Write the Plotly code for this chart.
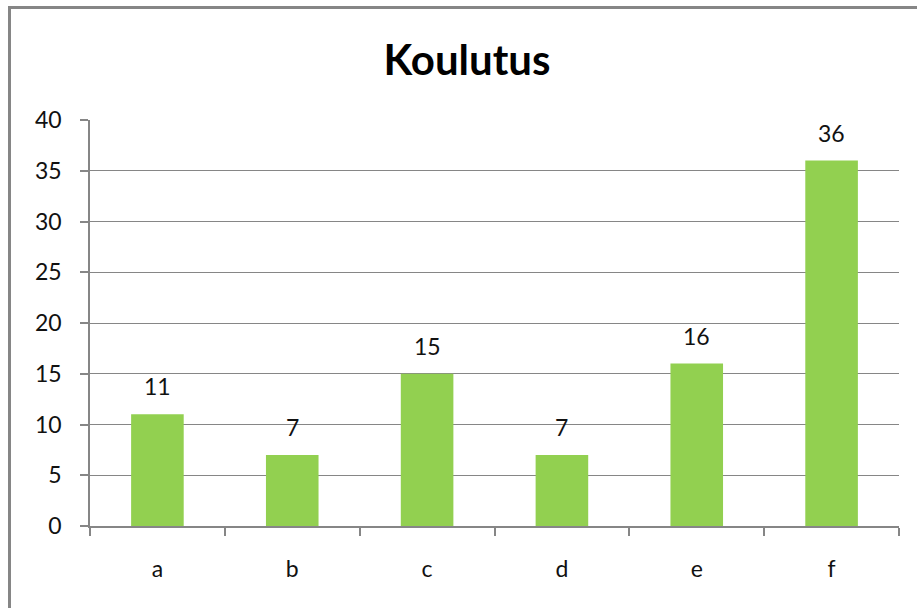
import plotly.graph_objects as go

categories = ["a", "b", "c", "d", "e", "f"]
values = [11, 7, 15, 7, 16, 36]
title_text = "Koulutus"

W, H = 917, 608
L, R, T, B = 90, 18, 120, 82
pw, ph = W - L - R, H - T - B
FONT = "Lato, Liberation Sans, sans-serif"

fig = go.Figure(go.Bar(x=categories, y=values, marker=dict(color="#92D050", line=dict(width=0)),
                       width=0.39))

for c, v in zip(categories, values):
    fig.add_annotation(x=c, y=v, text=str(v), showarrow=False, yanchor="bottom", yshift=12,
                       font=dict(family=FONT, size=23, color="#111"))

# chart frame
fig.add_shape(type="rect", xref="paper", yref="paper",
              x0=(9.5 - L) / pw, x1=(W + 5 - L) / pw,
              y0=(T + ph - (H + 5)) / ph, y1=(T + ph - 7.5) / ph,
              line=dict(color="#868686", width=3), layer="below")

fig.update_layout(
    width=W, height=H,
    margin=dict(l=L, r=R, t=T, b=B),
    paper_bgcolor="white", plot_bgcolor="white",
    showlegend=False,
    font=dict(family=FONT, size=23, color="#111"),
    title=dict(text="<b>" + title_text + "</b>", x=467 / W, xanchor="center", xref="container",
               y=1 - 60 / H, yanchor="middle", yref="container",
               font=dict(family=FONT, size=42, color="#000")),
    xaxis=dict(showgrid=False, showline=True, linecolor="#868686", linewidth=1.5,
               ticks="outside", tickson="boundaries", ticklen=8, tickcolor="#868686", tickwidth=1.5,
               ticklabelstandoff=22, fixedrange=True),
    yaxis=dict(range=[0, 40], dtick=5, showgrid=True, gridcolor="#868686", gridwidth=1.3,
               showline=True, linecolor="#868686", linewidth=1.5, zeroline=False,
               ticks="outside", ticklen=8, tickcolor="#868686", tickwidth=1.5,
               ticklabelstandoff=14, fixedrange=True),
)

fig.write_html("out.html", config={"displayModeBar": False},
               post_script="document.body.style.margin='0';document.body.style.overflow='hidden';")
